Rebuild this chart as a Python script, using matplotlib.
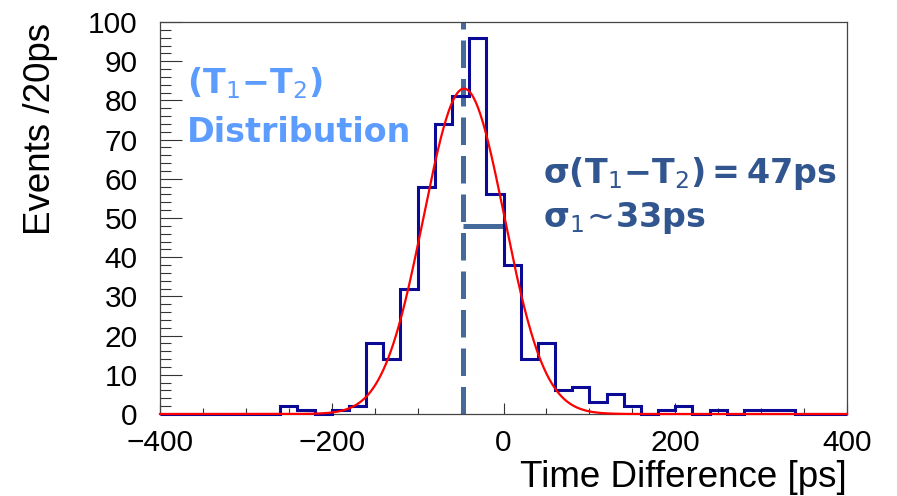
import matplotlib
matplotlib.use('Agg')
import matplotlib.pyplot as plt
import numpy as np
from matplotlib.ticker import MultipleLocator

# histogram: 20 ps bins from -400 to 400
bin_edges = np.arange(-400, 401, 20)
counts = [0, 0, 0, 0, 0, 0, 0,
          2, 1, 0, 1, 2, 18, 14, 32, 58, 74, 81, 96,
          56, 38, 14, 18, 6, 7, 3, 5, 2, 0, 1, 2, 0, 1, 0, 1, 1, 1,
          0, 0, 0]

# gaussian fit shown in red
fit_amp = 83
fit_mean = -46
fit_sigma = 47

# marker line for the mean and the sigma bar
mean_line_x = -47
sigma_bar_y = 48
sigma_bar_x = [-47, 0]

plt.rcParams['font.family'] = ['Liberation Sans', 'DejaVu Sans']
plt.rcParams['mathtext.fontset'] = 'dejavusans'

fig = plt.figure(figsize=(8.97, 4.96), dpi=100)
ax = fig.add_axes([160/897, 1 - 414/496, 687/897, 392/496])

ax.axvline(mean_line_x, color='#44699b', lw=3.6, dashes=(5.5, 2.2), zorder=2)
ax.plot(sigma_bar_x, [sigma_bar_y, sigma_bar_y], color='#44699b', lw=3.6,
        solid_capstyle='butt', zorder=2)

ax.stairs(counts, bin_edges, color='#0a0a96', lw=2.2, zorder=3, clip_on=False)

xf = np.linspace(-400, 400, 801)
yf = fit_amp * np.exp(-0.5 * ((xf - fit_mean) / fit_sigma) ** 2)
ax.plot(xf, yf, color='#ff0000', lw=1.6, zorder=4, clip_on=False)

ax.set_xlim(-400, 400)
ax.set_ylim(0, 100)
ax.xaxis.set_major_locator(MultipleLocator(200))
ax.xaxis.set_minor_locator(MultipleLocator(50))
ax.yaxis.set_major_locator(MultipleLocator(10))
ax.yaxis.set_minor_locator(MultipleLocator(2))
ax.tick_params(axis='x', which='major', direction='in', length=8, width=0.8,
               labelsize=21.5, pad=11, color='#333333')
ax.tick_params(axis='x', which='minor', direction='in', length=4, width=0.8,
               color='#333333')
ax.tick_params(axis='y', which='major', direction='in', length=16, width=0.8,
               labelsize=21.5, pad=16, color='#333333')
ax.tick_params(axis='y', which='minor', direction='in', length=8, width=0.8,
               color='#333333')
for s in ax.spines.values():
    s.set_color('#444444')
    s.set_linewidth(0.9)

fig.text(40/897, 1 - 23/496, 'Events /20ps', rotation=90, ha='center', va='top',
         fontsize=26.5)
fig.text(847/897, 1 - 487/496, 'Time Difference [ps]', ha='right', va='baseline',
         fontsize=26.5)

light = '#5c9cff'
dark = '#30558f'
fig.text(187/897, 1 - 93/496, r'$\mathbf{(T}_{1}\mathbf{−T}_{2}\mathbf{)}$',
         color=light, fontsize=24, va='baseline')
fig.text(187/897, 1 - 142/496, 'Distribution', color=light,
         fontsize=24, fontweight='bold', family='DejaVu Sans', va='baseline')
fig.text(543/897, 1 - 183/496,
         r'$\mathbf{σ(T}_{1}\mathbf{−T}_{2}\mathbf{)=47ps}$',
         color=dark, fontsize=24, va='baseline')
fig.text(543/897, 1 - 227/496, r'$\mathbf{σ}_{1}\!\sim\!\mathbf{33ps}$',
         color=dark, fontsize=24, va='baseline')

fig.savefig('out.png', dpi=100)
